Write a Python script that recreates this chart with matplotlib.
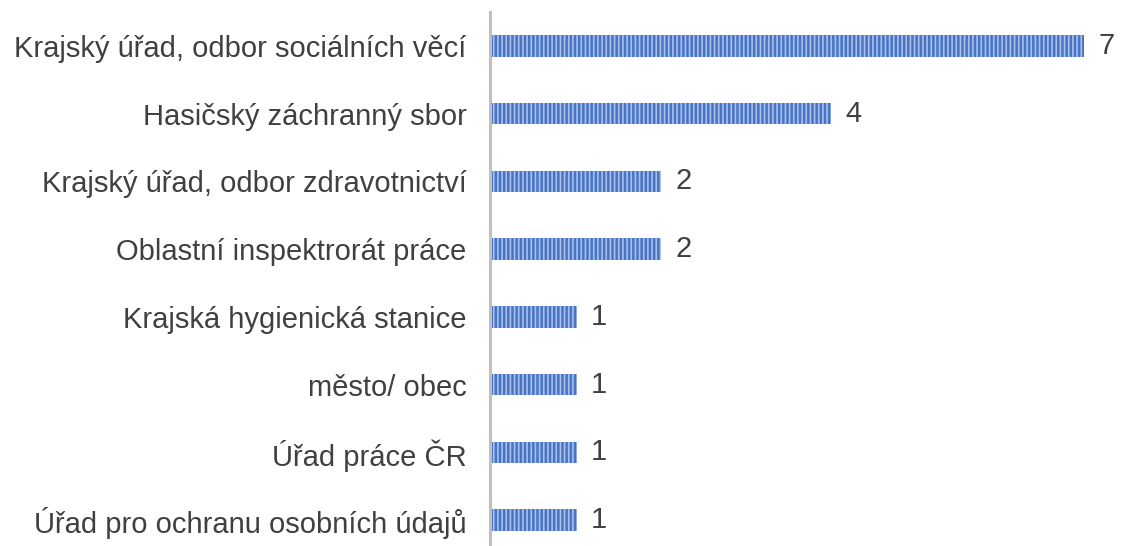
import matplotlib.pyplot as plt

# hodnoty z grafu
kategorie = [
    "Krajský úřad, odbor sociálních věcí",
    "Hasičský záchranný sbor",
    "Krajský úřad, odbor zdravotnictví",
    "Oblastní inspektrorát práce",
    "Krajská hygienická stanice",
    "město/ obec",
    "Úřad práce ČR",
    "Úřad pro ochranu osobních údajů",
]
hodnoty = [7, 4, 2, 2, 1, 1, 1, 1]

plt.rcParams['font.family'] = ['Liberation Sans', 'DejaVu Sans']
plt.rcParams['hatch.linewidth'] = 1.2

fig = plt.figure(figsize=(11.21, 5.46), dpi=100)
ax = fig.add_axes([490 / 1121, -8 / 546, 631 / 1121, 542 / 546])

pozice = list(range(len(kategorie)))
ax.barh(pozice, hodnoty, height=0.32, left=0.025,
        color='#4874c6', edgecolor='#a9c0ea', linewidth=0, hatch='||||')

for p, v in zip(pozice, hodnoty):
    ax.text(v + 0.025 + 0.17, p, str(v), va='center', ha='left',
            fontsize=21, color='#404040')

ax.set_xlim(0, 631 / 84.6)
ax.set_ylim(len(kategorie) - 0.5, -0.5)
ax.set_yticks(pozice)
ax.set_yticklabels(kategorie, fontsize=21, color='#404040')
ax.tick_params(axis='y', length=0, pad=17)
ax.set_xticks([])
for s in ['top', 'right', 'bottom']:
    ax.spines[s].set_visible(False)
ax.spines['left'].set_color('#bfbfbf')
ax.spines['left'].set_linewidth(2.2)

fig.savefig('out.png', dpi=100)
